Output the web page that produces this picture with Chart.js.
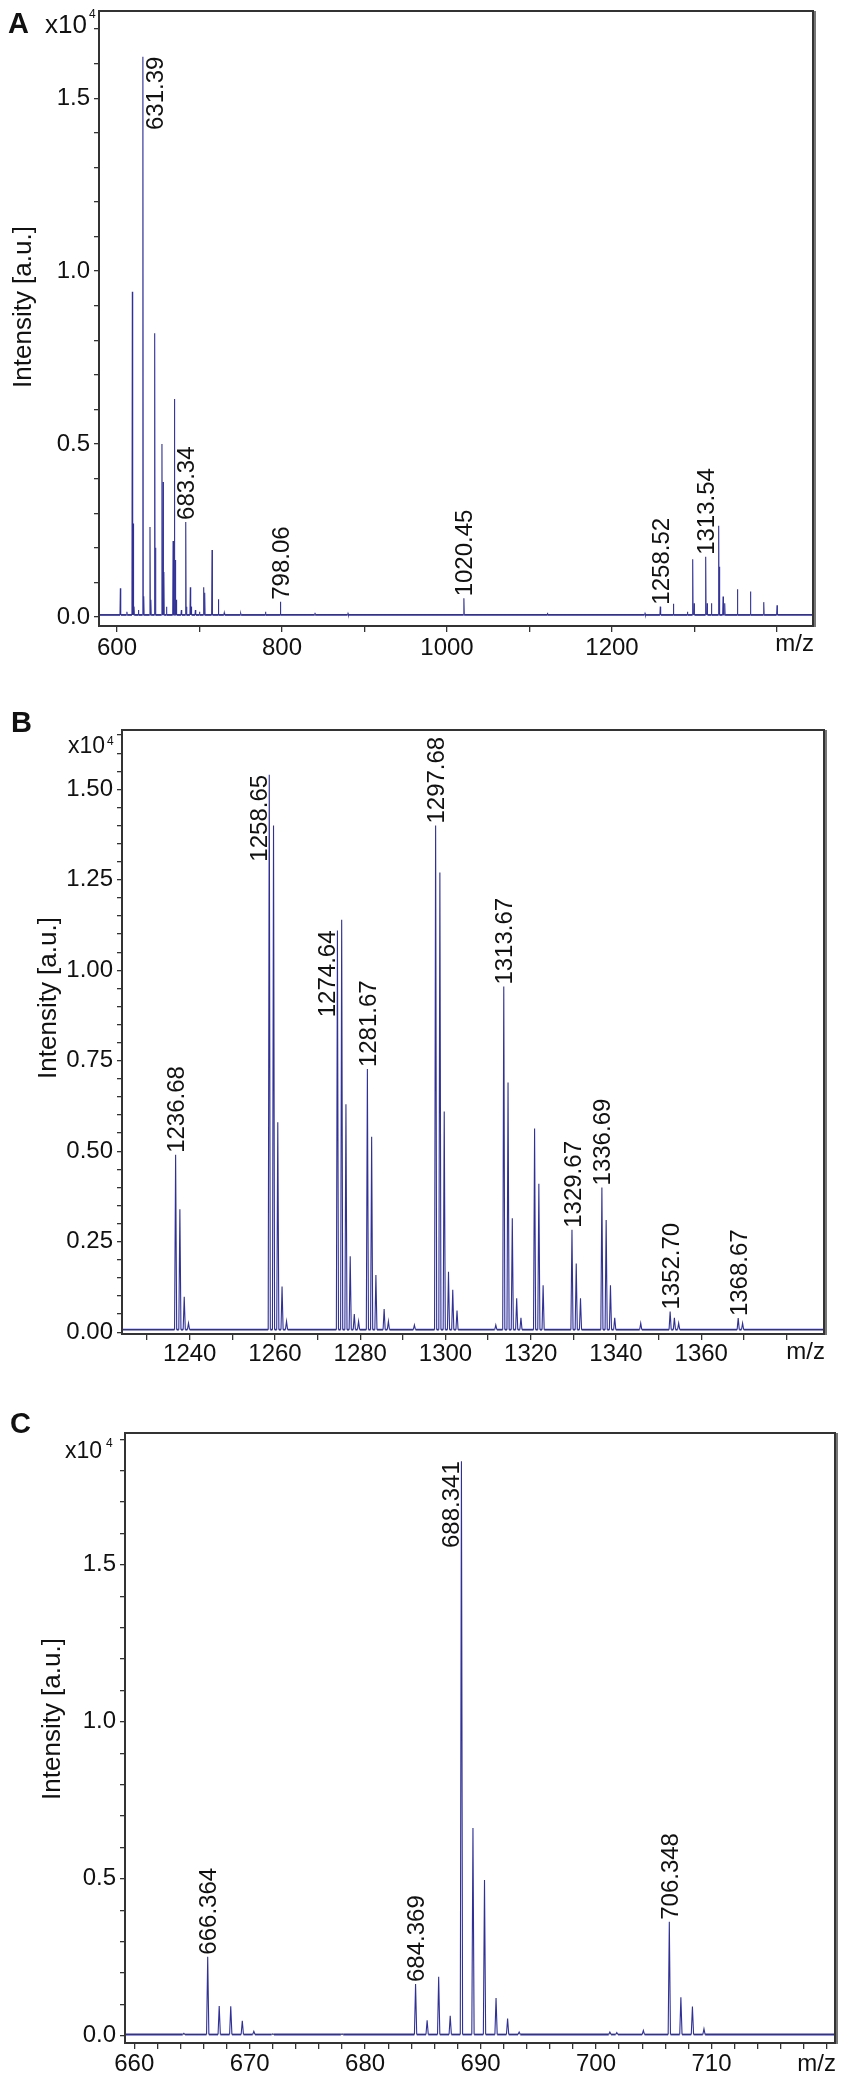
<!DOCTYPE html>
<html>
<head>
<meta charset="utf-8">
<script src="https://cdn.jsdelivr.net/npm/chart.js@4.4.1/dist/chart.umd.min.js"></script>
<style>
  html, body { margin: 0; padding: 0; background: #fff; }
  #wrap { position: relative; width: 851px; height: 2086px; }
  canvas { position: absolute; left: 0; }
</style>
</head>
<body>
<div id="wrap">
  <canvas id="chartA" width="851" height="690" style="top:0px"></canvas>
  <canvas id="chartB" width="851" height="700" style="top:690px"></canvas>
  <canvas id="chartC" width="851" height="696" style="top:1390px"></canvas>
</div>
<script>
// ---- panel A: full range spectrum (m/z, intensity x10^4) ----
const peaksA = [
  [604.1, 0.083], [612, 0.015], [618.6, 0.94], [619.6, 0.27], [620.6, 0.03], [626, 0.02],
  [631.39, 1.62], [632.4, 0.06], [640.0, 0.26], [641.0, 0.05], [645.7, 0.82], [646.7, 0.2],
  [654.5, 0.50], [655.8, 0.39], [656.8, 0.13], [660, 0.03], [668.0, 0.22], [669.6, 0.63],
  [670.8, 0.165], [671.8, 0.05], [678, 0.02], [683.34, 0.275], [684.3, 0.03], [688.9, 0.086],
  [689.9, 0.03], [695, 0.02], [700, 0.015], [705.1, 0.086], [706.3, 0.07], [715.2, 0.194],
  [722.9, 0.051], [730, 0.012], [750, 0.01], [780, 0.015], [798.06, 0.044], [840, 0.012],
  [880, 0.01], [1020.45, 0.054], [1121.7, 0.012], [1240, 0.01], [1258.52, 0.03], [1274.4, 0.038],
  [1291.4, 0.015], [1297.8, 0.167], [1299.4, 0.04], [1313.54, 0.174], [1315.2, 0.04],
  [1320.5, 0.04], [1329.3, 0.264], [1330.2, 0.145], [1334.6, 0.059], [1336.6, 0.04],
  [1352, 0.08], [1367.8, 0.074], [1383.9, 0.043], [1400, 0.034]
];
const labelsA = ['631.39', '683.34', '798.06', '1020.45', '1258.52', '1313.54'];
const labelSideA = ['r', 'c', 'c', 'c', 'c', 'c'];
const xTicksA = [600, 700, 800, 900, 1000, 1100, 1200, 1300, 1400];
const xTickLabelsA = [600, 800, 1000, 1200];
const yTicksA = [0, 0.1, 0.2, 0.3, 0.4, 0.5, 0.6, 0.7, 0.8, 0.9, 1.0, 1.1, 1.2, 1.3, 1.4, 1.5, 1.6, 1.7];
const yTickLabelsA = [0, 0.5, 1.0, 1.5];

// ---- panel B: 1224-1389 zoom ----
const peaksB = [
  [1236.68, 0.49], [1237.68, 0.34], [1238.7, 0.098], [1239.7, 0.025],
  [1258.65, 1.54], [1259.65, 1.40], [1260.65, 0.58], [1261.65, 0.126], [1262.7, 0.03],
  [1274.64, 1.11], [1275.64, 1.14], [1276.64, 0.63], [1277.64, 0.21], [1278.6, 0.05], [1279.6, 0.03],
  [1281.67, 0.727], [1282.67, 0.54], [1283.67, 0.158], [1285.6, 0.064], [1286.6, 0.03], [1292.7, 0.02],
  [1297.68, 1.40], [1298.68, 1.27], [1299.7, 0.61], [1300.7, 0.167], [1301.7, 0.117], [1302.7, 0.06],
  [1311.8, 0.02], [1313.67, 0.955], [1314.67, 0.69], [1315.67, 0.315], [1316.7, 0.094], [1317.7, 0.04],
  [1320.9, 0.563], [1321.9, 0.41], [1322.9, 0.13],
  [1329.67, 0.283], [1330.67, 0.19], [1331.67, 0.094],
  [1336.69, 0.40], [1337.69, 0.31], [1338.7, 0.13], [1339.7, 0.04], [1345.8, 0.025],
  [1352.70, 0.057], [1353.7, 0.04], [1354.7, 0.025], [1368.67, 0.039], [1369.7, 0.025]
];
const labelsB = ['1236.68', '1258.65', '1274.64', '1281.67', '1297.68', '1313.67', '1329.67', '1336.69', '1352.70', '1368.67'];
const labelSideB = ['c', 'l', 'l', 'c', 'c', 'c', 'c', 'c', 'c', 'c'];
const xTicksB = [1230, 1240, 1250, 1260, 1270, 1280, 1290, 1300, 1310, 1320, 1330, 1340, 1350, 1360, 1370, 1380];
const xTickLabelsB = [1240, 1260, 1280, 1300, 1320, 1340, 1360];
const yTicksB = [0, 0.05, 0.1, 0.15, 0.2, 0.25, 0.3, 0.35, 0.4, 0.45, 0.5, 0.55, 0.6, 0.65, 0.7, 0.75, 0.8,
  0.85, 0.9, 0.95, 1.0, 1.05, 1.1, 1.15, 1.2, 1.25, 1.3, 1.35, 1.4, 1.45, 1.5, 1.55, 1.6, 1.65];
const yTickLabelsB = [0, 0.25, 0.5, 0.75, 1.0, 1.25, 1.5];

// ---- panel C: 659-721 zoom ----
const peaksC = [
  [664.3, 0.008], [666.364, 0.252], [667.36, 0.095], [668.36, 0.094], [669.36, 0.048], [670.36, 0.014],
  [672.0, 0.006], [678.0, 0.006], [684.369, 0.165], [685.37, 0.049], [686.37, 0.188], [687.37, 0.064],
  [688.341, 1.83], [689.34, 0.662], [690.34, 0.496], [691.34, 0.12], [692.34, 0.055], [693.34, 0.012],
  [701.2, 0.012], [701.8, 0.01], [704.1, 0.017], [706.348, 0.363], [707.35, 0.123], [708.35, 0.093],
  [709.35, 0.022]
];
const labelsC = ['666.364', '684.369', '688.341', '706.348'];
const labelSideC = ['c', 'c', 'l', 'c'];
const xTicksC = [660, 662, 664, 666, 668, 670, 672, 674, 676, 678, 680, 682, 684, 686, 688, 690,
  692, 694, 696, 698, 700, 702, 704, 706, 708, 710, 712, 714, 716, 718, 720];
const xTickLabelsC = [660, 670, 680, 690, 700, 710];
const yTicksC = [0, 0.1, 0.2, 0.3, 0.4, 0.5, 0.6, 0.7, 0.8, 0.9, 1.0, 1.1, 1.2, 1.3, 1.4, 1.5, 1.6, 1.7, 1.8, 1.9];
const yTickLabelsC = [0, 0.5, 1.0, 1.5];

const FONT = "'Liberation Sans', Arial, Helvetica, sans-serif";
const LINE = 'rgb(48,48,150)';
Chart.defaults.font.family = FONT;
Chart.defaults.color = '#111';

// stick spectrum: each peak goes baseline -> top -> baseline
function stickLine(peaks, base, hw, xmin, xmax) {
  const pts = [{ x: xmin, y: base }];
  peaks.slice().sort((a, b) => a[0] - b[0]).forEach(p => {
    pts.push({ x: p[0] - hw, y: base }, { x: p[0], y: p[1] }, { x: p[0] + hw, y: base });
  });
  pts.push({ x: xmax, y: base });
  return pts;
}

function hasVal(list, v) {
  return list.some(t => Math.abs(t - v) < 1e-6);
}

function makePanel(id, p) {
  const H = document.getElementById(id).height;
  const decor = {
    id: 'decor' + id,
    afterDatasetsDraw(chart) {
      const { ctx, scales: { x, y } } = chart;
      ctx.save();
      // peak labels
      ctx.fillStyle = '#111';
      ctx.font = '24px ' + FONT;
      const cap = 17.2;
      p.labels.forEach((txt, i) => {
        const mz = parseFloat(txt);
        const pk = p.peaks.find(q => Math.abs(q[0] - mz) < 1e-6);
        const px = x.getPixelForValue(mz), py = y.getPixelForValue(pk[1]);
        const side = p.sides[i];
        ctx.save();
        ctx.textBaseline = 'alphabetic';
        if (side === 'c') {
          ctx.translate(px + cap / 2, py - 2);
          ctx.rotate(-Math.PI / 2);
          ctx.textAlign = 'left';
        } else if (side === 'l') {
          ctx.translate(px - 2, py);
          ctx.rotate(-Math.PI / 2);
          ctx.textAlign = 'right';
        } else {
          ctx.translate(px + 3 + cap, py);
          ctx.rotate(-Math.PI / 2);
          ctx.textAlign = 'right';
        }
        ctx.fillText(txt, 0, 0);
        ctx.restore();
      });
      ctx.restore();
    },
    afterDraw(chart) {
      const { ctx, chartArea: a } = chart;
      ctx.save();
      // frame
      ctx.strokeStyle = '#333';
      ctx.lineWidth = 2;
      ctx.strokeRect(a.left, a.top, a.right - a.left, a.bottom - a.top);
      ctx.strokeStyle = '#777';
      ctx.beginPath();
      ctx.moveTo(a.right + 2, a.top);
      ctx.lineTo(a.right + 2, a.bottom + 1);
      ctx.stroke();
      ctx.fillStyle = '#111';
      // panel letter
      ctx.font = 'bold 29px ' + FONT;
      ctx.textAlign = 'left';
      ctx.textBaseline = 'alphabetic';
      ctx.fillText(p.letter, p.letterPos[0], p.letterPos[1]);
      // x10^4 multiplier
      ctx.font = p.multSize + 'px ' + FONT;
      ctx.fillText('x10', p.multPos[0], p.multPos[1]);
      ctx.font = '12px ' + FONT;
      ctx.fillText('4', p.supPos[0], p.supPos[1]);
      // y title
      ctx.save();
      ctx.font = '26px ' + FONT;
      ctx.translate(p.yTitle[0], p.yTitle[1]);
      ctx.rotate(-Math.PI / 2);
      ctx.textAlign = 'center';
      ctx.fillText('Intensity [a.u.]', 0, 0);
      ctx.restore();
      // m/z
      ctx.font = '24px ' + FONT;
      ctx.textAlign = 'right';
      ctx.fillText('m/z', a.right + 1, p.mzBase);
      ctx.restore();
    }
  };

  const onBase = c => c.p0.parsed.y === p.base && c.p1.parsed.y === p.base;

  return new Chart(document.getElementById(id), {
    type: 'line',
    data: {
      datasets: [{
        data: stickLine(p.peaks, p.base, p.hw, p.xr[0], p.xr[1]),
        borderColor: LINE,
        borderWidth: 1.1,
        segment: { borderWidth: c => onBase(c) ? 1.8 : 1.1 },
        pointRadius: 0,
        tension: 0,
        fill: false
      }]
    },
    options: {
      responsive: false,
      animation: false,
      events: [],
      layout: { padding: { left: 0, top: p.area.t, right: 851 - p.area.r, bottom: 0 } },
      plugins: { legend: { display: false }, tooltip: { enabled: false } },
      scales: {
        x: {
          type: 'linear',
          min: p.xr[0], max: p.xr[1],
          afterBuildTicks: s => { s.ticks = p.xTicks.map(v => ({ value: v })); },
          afterFit: s => { s.height = H - p.area.b; s.paddingLeft = 0; s.paddingRight = 0; },
          grid: { drawOnChartArea: false, drawTicks: true, tickLength: 6, color: '#333', lineWidth: 1.3 },
          border: { display: false },
          ticks: {
            autoSkip: false, maxRotation: 0, padding: p.xPad,
            font: { size: 24 }, color: '#111',
            callback: v => hasVal(p.xLabels, v) ? String(v) : ''
          }
        },
        y: {
          type: 'linear',
          min: p.yr[0], max: p.yr[1],
          afterBuildTicks: s => { s.ticks = p.yTicks.map(v => ({ value: v })); },
          afterFit: s => { s.width = p.area.l; s.paddingTop = 0; s.paddingBottom = 0; },
          grid: { drawOnChartArea: false, drawTicks: true, tickLength: 5, color: '#333', lineWidth: 1.3 },
          border: { display: false },
          ticks: {
            autoSkip: false, padding: 4,
            font: { size: 24 }, color: '#111',
            callback: v => hasVal(p.yLabels, v) ? v.toFixed(p.dec) : ''
          }
        }
      }
    },
    plugins: [decor]
  });
}

makePanel('chartA', {
  peaks: peaksA, labels: labelsA, sides: labelSideA, base: 0.006, hw: 0.45,
  xr: [578.2, 1443.6], yr: [-0.026, 1.752],
  area: { l: 99, t: 11, r: 813, b: 626 },
  xTicks: xTicksA, xLabels: xTickLabelsA, yTicks: yTicksA, yLabels: yTickLabelsA, dec: 1,
  xPad: 2,
  letter: 'A', letterPos: [8, 32.5], multSize: 26, multPos: [45, 33.3], supPos: [89, 18],
  yTitle: [31, 307], mzBase: 651
});

makePanel('chartB', {
  peaks: peaksB, labels: labelsB, sides: labelSideB, base: 0.007, hw: 0.25,
  xr: [1224.1, 1388.8], yr: [-0.005, 1.664],
  area: { l: 122, t: 40, r: 824, b: 644 },
  xTicks: xTicksB, xLabels: xTickLabelsB, yTicks: yTicksB, yLabels: yTickLabelsB, dec: 2,
  xPad: 0,
  letter: 'B', letterPos: [11, 41.7], multSize: 23, multPos: [68, 63.3], supPos: [107, 55],
  yTitle: [56, 308], mzBase: 669
});

makePanel('chartC', {
  peaks: peaksC, labels: labelsC, sides: labelSideC, base: 0.004, hw: 0.1,
  xr: [659.2, 720.7], yr: [-0.023, 1.92],
  area: { l: 125, t: 43, r: 835, b: 653 },
  xTicks: xTicksC, xLabels: xTickLabelsC, yTicks: yTicksC, yLabels: yTickLabelsC, dec: 1,
  xPad: 1,
  letter: 'C', letterPos: [10, 43.3], multSize: 23, multPos: [65, 68.3], supPos: [106, 56.7],
  yTitle: [60, 329], mzBase: 681
});
</script>
</body>
</html>
